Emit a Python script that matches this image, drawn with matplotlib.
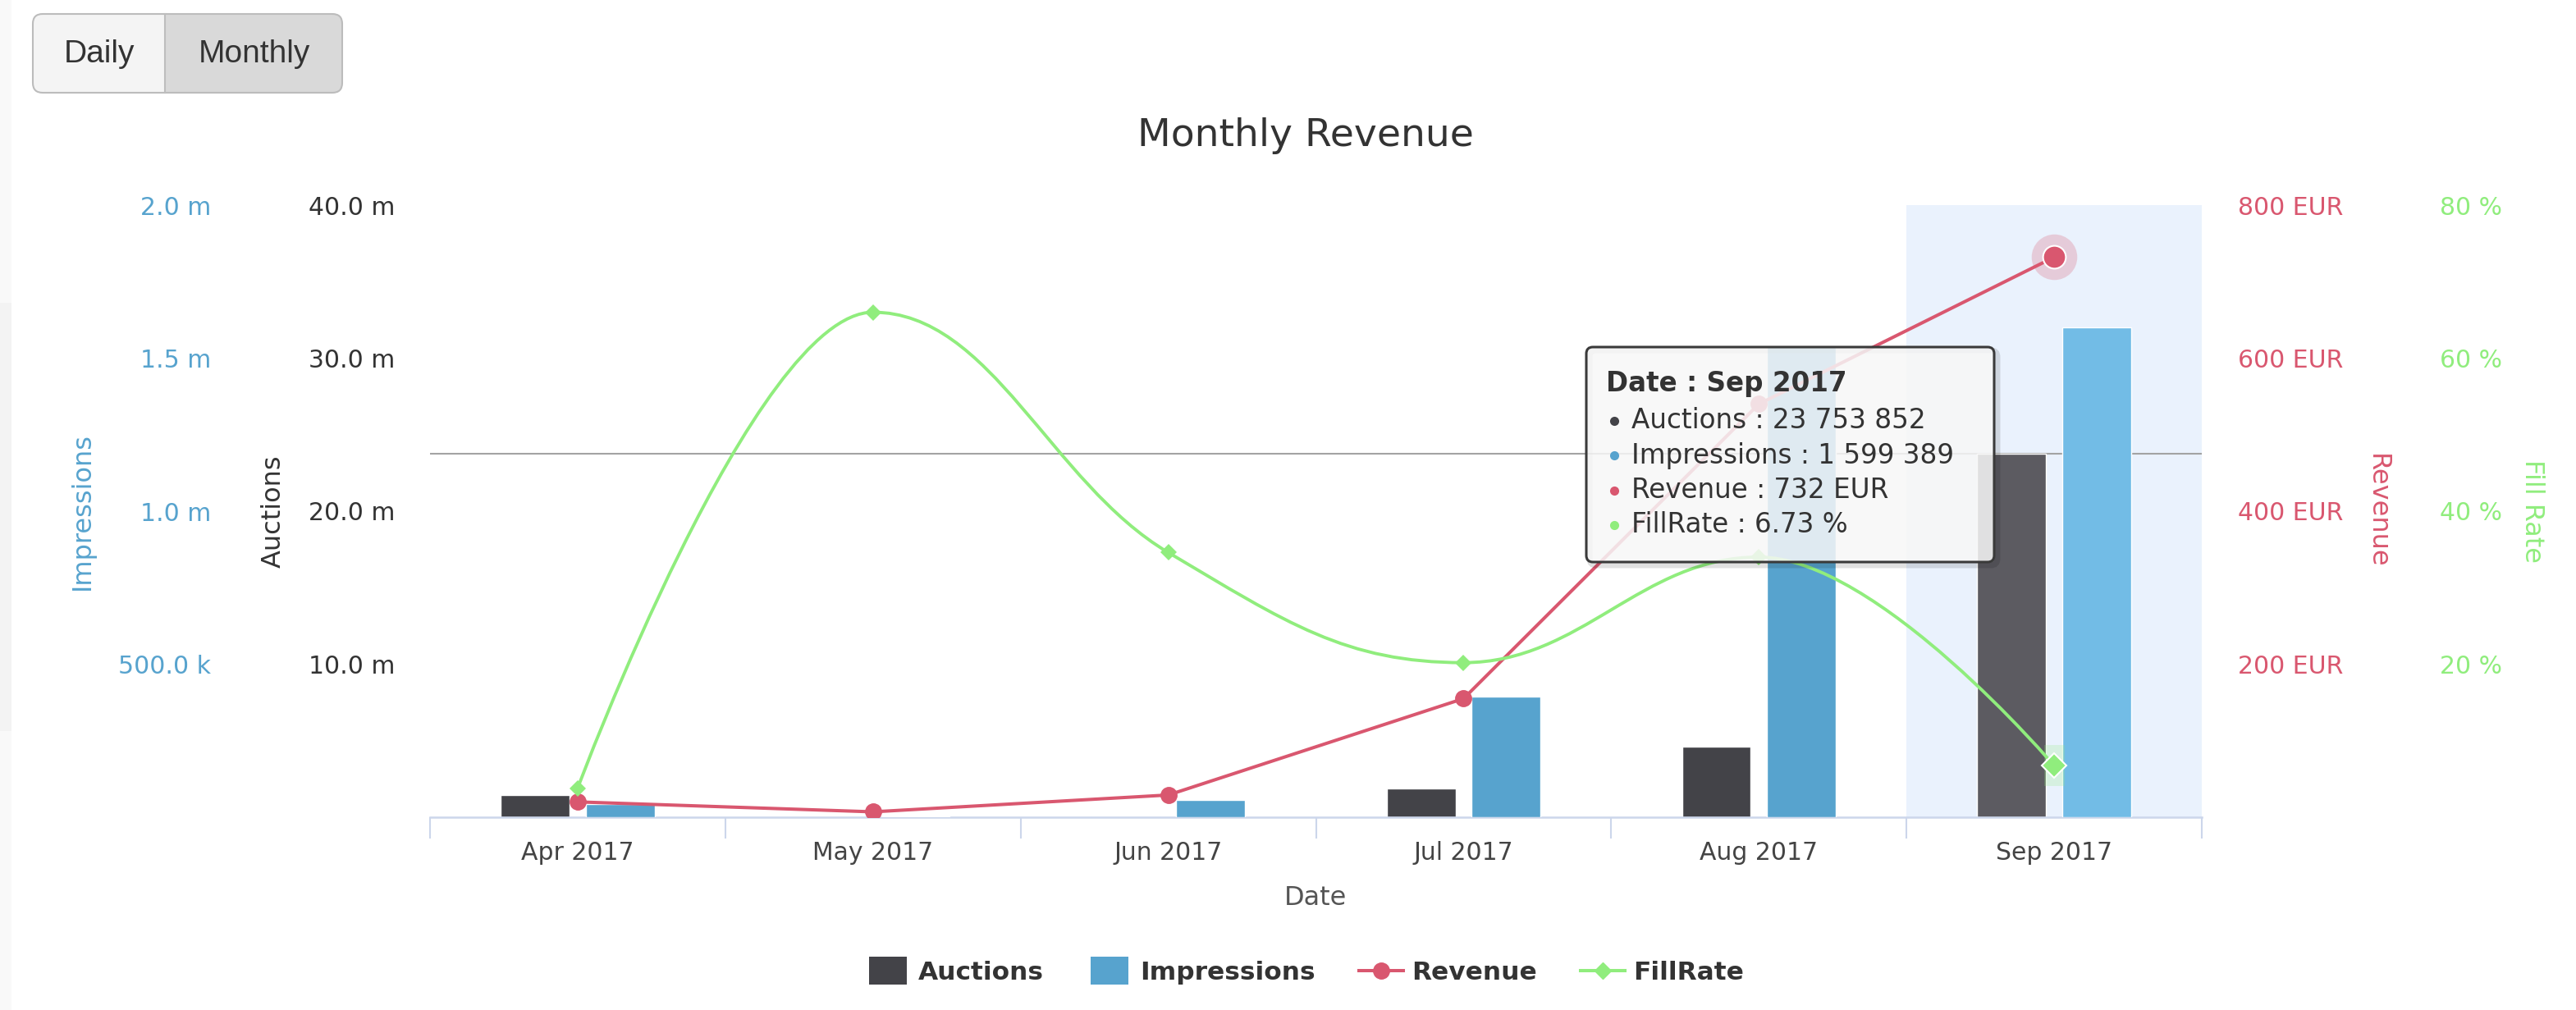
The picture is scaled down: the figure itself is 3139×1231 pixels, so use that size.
import numpy as np
import matplotlib.pyplot as plt
from matplotlib.path import Path
from matplotlib.patches import PathPatch, FancyBboxPatch, Rectangle
from matplotlib.lines import Line2D

# data
months = ['Apr 2017', 'May 2017', 'Jun 2017', 'Jul 2017', 'Aug 2017', 'Sep 2017']
auctions = [1.45e6, 0.02e6, 0.05e6, 1.88e6, 4.6e6, 23753852]
impressions = [42000, 3000, 56000, 394000, 1540000, 1599389]
revenue = [20, 7, 29, 155, 540, 732]
fill_rate = [3.8, 66.0, 34.6, 20.2, 34.0, 6.73]

auction_ticks = [10e6, 20e6, 30e6, 40e6]
impression_ticks = [0.5e6, 1.0e6, 1.5e6, 2.0e6]
revenue_ticks = [200, 400, 600, 800]
fill_ticks = [20, 40, 60, 80]
hover = 5  # Sep 2017 is the hovered point

C_AUC, C_AUC_H = '#434348', '#5c5b61'
C_IMP, C_IMP_H = '#57a3ce', '#72bce6'
C_REV = '#d9576f'
C_FILL = '#90ed7d'
C_AXIS = '#ccd6eb'

plt.rcParams['font.family'] = ['DejaVu Sans']
TICK_FS = 21.5
LAB_FS = 23

W, H = 3139, 1231
fig = plt.figure(figsize=(W / 100, H / 100), dpi=100)
L, R, T, B = 524, 2683, 250, 996
ax = fig.add_axes([L / W, 1 - B / H, (R - L) / W, (B - T) / H])
ax_imp = ax.twinx()
ax_rev = ax.twinx()
ax_fill = ax.twinx()

x = np.arange(len(months))
bw, off = 0.233, 0.144


def hc_spline(xs, ys, smoothing=1.5):
    # same control points as a highcharts spline series
    n = len(xs)
    lc, rc = [None] * n, [None] * n
    d = smoothing + 1
    for i in range(1, n - 1):
        px, py = xs[i], ys[i]
        lx, ly = xs[i - 1], ys[i - 1]
        nx, ny = xs[i + 1], ys[i + 1]
        lcx, lcy = (smoothing * px + lx) / d, (smoothing * py + ly) / d
        rcx, rcy = (smoothing * px + nx) / d, (smoothing * py + ny) / d
        if rcx != lcx:
            corr = (rcy - lcy) * (rcx - px) / (rcx - lcx) + py - rcy
            lcy += corr
            rcy += corr
        if lcy > ly and lcy > py:
            lcy = max(ly, py); rcy = 2 * py - lcy
        elif lcy < ly and lcy < py:
            lcy = min(ly, py); rcy = 2 * py - lcy
        if rcy > ny and rcy > py:
            rcy = max(ny, py); lcy = 2 * py - rcy
        elif rcy < ny and rcy < py:
            rcy = min(ny, py); lcy = 2 * py - rcy
        lc[i], rc[i] = (lcx, lcy), (rcx, rcy)
    verts, codes = [(xs[0], ys[0])], [Path.MOVETO]
    for i in range(1, n):
        verts += [rc[i - 1] or (xs[i - 1], ys[i - 1]), lc[i] or (xs[i], ys[i]), (xs[i], ys[i])]
        codes += [Path.CURVE4] * 3
    return Path(verts, codes)


# hover band + crosshair
ax.axvspan(hover - 0.5, hover + 0.5, color='#eaf2fd', zorder=0, lw=0)
ax.axhline(auctions[hover], color='#a3a3a3', lw=1.5, zorder=1)

auc_cols = [C_AUC_H if i == hover else C_AUC for i in x]
imp_cols = [C_IMP_H if i == hover else C_IMP for i in x]
ax.bar(x - off, auctions, bw, color=auc_cols, edgecolor='white', lw=1, zorder=2)
ax_imp.bar(x + off, impressions, bw, color=imp_cols, edgecolor='white', lw=1, zorder=2)

# revenue line
ax_rev.plot(x, revenue, color=C_REV, lw=2.9, marker='o', ms=14, zorder=3)
ax_rev.plot(x[hover], revenue[hover], 'o', color=C_REV, alpha=0.25, ms=40, mew=0, zorder=3)
ax_rev.plot(x[hover], revenue[hover], 'o', color=C_REV, ms=20, mec='white', mew=1.5, zorder=4)

# fill rate spline
ax_fill.add_patch(PathPatch(hc_spline(list(x), fill_rate), fc='none', ec=C_FILL, lw=2.8, zorder=3))
ax_fill.plot(x, fill_rate, 'D', color=C_FILL, ms=10, mew=0, zorder=4)
halo = Path([(-0.5, -1), (0.5, -1), (0.5, 1), (-0.5, 1), (-0.5, -1)])
ax_fill.plot(x[hover], fill_rate[hover], marker=halo, color=C_FILL, alpha=0.22, ms=36, mew=0, ls='none', zorder=3)
ax_fill.plot(x[hover], fill_rate[hover], 'D', color=C_FILL, ms=15, mec='white', mew=1.5, zorder=4)

# axes limits and ticks
ax.set_xlim(-0.5, len(months) - 0.5)
ax.set_ylim(0, 40e6)
ax_imp.set_ylim(0, 2e6)
ax_rev.set_ylim(0, 800)
ax_fill.set_ylim(0, 80)

for a in (ax, ax_imp, ax_rev, ax_fill):
    for s in a.spines.values():
        s.set_visible(False)
ax.spines['bottom'].set_visible(True)
ax.spines['bottom'].set_color(C_AXIS)
ax.spines['bottom'].set_linewidth(1.8)

ax.set_xticks(x)
ax.set_xticklabels(months, fontsize=TICK_FS, color='#444444')
ax.set_xticks(np.arange(len(months) + 1) - 0.5, minor=True)
ax.tick_params(axis='x', which='major', length=0, pad=21)
ax.tick_params(axis='x', which='minor', length=19, width=1.5, color=C_AXIS)
ax.set_xlabel('Date', fontsize=LAB_FS, color='#555555')
ax.xaxis.set_label_coords(0.5, -0.1315)
ax.xaxis.label.set_va('center')

ax.set_yticks(auction_ticks)
ax.set_yticklabels([f'{v / 1e6:.1f} m' for v in auction_ticks], fontsize=TICK_FS, color='#333333')
ax.tick_params(axis='y', length=0, pad=31)

ax_imp.yaxis.tick_left()
ax_imp.yaxis.set_label_position('left')
ax_imp.set_yticks(impression_ticks)
ax_imp.set_yticklabels([f'{v / 1e3:.1f} k' if v < 1e6 else f'{v / 1e6:.1f} m' for v in impression_ticks],
                       fontsize=TICK_FS, color=C_IMP)
ax_imp.tick_params(axis='y', length=0, pad=192)

ax_rev.set_yticks(revenue_ticks)
ax_rev.set_yticklabels([f'{v} EUR' for v in revenue_ticks], fontsize=TICK_FS, color=C_REV)
ax_rev.tick_params(axis='y', length=0, pad=32)

ax_fill.set_yticks(fill_ticks)
ax_fill.set_yticklabels([f'{v} %' for v in fill_ticks], fontsize=TICK_FS, color=C_FILL)
ax_fill.tick_params(axis='y', length=0, pad=209)

ax_imp.set_ylabel('Impressions', fontsize=LAB_FS, color=C_IMP, va='center')
ax_imp.yaxis.set_label_coords(-0.1964, 0.5)
ax.set_ylabel('Auctions', fontsize=LAB_FS, color='#333333', va='center')
ax.yaxis.set_label_coords(-0.0885, 0.5)
ax_rev.set_ylabel('Revenue', fontsize=LAB_FS, color=C_REV, rotation=270, va='center')
ax_rev.yaxis.set_label_coords(1.099, 0.5)
ax_fill.set_ylabel('Fill Rate', fontsize=LAB_FS, color=C_FILL, rotation=270, va='center')
ax_fill.yaxis.set_label_coords(1.1862, 0.5)

fig.text(1591 / W, 1 - 166 / H, 'Monthly Revenue', fontsize=34, color='#333333', ha='center', va='center')

# legend
box = Path([(-0.5, -0.37), (0.5, -0.37), (0.5, 0.37), (-0.5, 0.37), (-0.5, -0.37)])
handles = [
    Line2D([], [], ls='none', marker=box, ms=33, mew=0, color=C_AUC),
    Line2D([], [], ls='none', marker=box, ms=33, mew=0, color=C_IMP),
    Line2D([], [], color=C_REV, lw=2.9, marker='o', ms=14),
    Line2D([], [], color=C_FILL, lw=2.9, marker='D', ms=10),
]
fig.legend(handles, ['Auctions', 'Impressions', 'Revenue', 'FillRate'], loc='center',
           bbox_to_anchor=(1590 / W, 1 - 1185 / H), ncol=4, frameon=False,
           prop={'size': 22.5, 'weight': 'bold'}, handlelength=1.73, handletextpad=0.32,
           columnspacing=1.7, labelcolor='#333333')

# overlay in pixel coordinates: buttons and tooltip
ov = fig.add_axes([0, 0, 1, 1], zorder=10)
ov.set_xlim(0, W)
ov.set_ylim(H, 0)
ov.axis('off')

ov.add_patch(Rectangle((0, 0), 14, H, color='#f9f9f9', lw=0))
ov.add_patch(Rectangle((0, 369), 14, 522, color='#f3f3f3', lw=0))

ov.add_patch(FancyBboxPatch((40, 17), 377, 96, boxstyle='round,pad=0,rounding_size=12',
                            fc='#f4f4f4', ec='none'))
ov.add_patch(FancyBboxPatch((201, 17), 216, 96, boxstyle='round,pad=0,rounding_size=12',
                            fc='#d9d9d9', ec='none'))
ov.add_patch(Rectangle((201, 17), 20, 96, fc='#d9d9d9', ec='none'))
ov.plot([201, 201], [17, 113], color='#bdbdbd', lw=1.5)
ov.add_patch(FancyBboxPatch((40, 17), 377, 96, boxstyle='round,pad=0,rounding_size=12',
                            fc='none', ec='#bcbcbc', lw=1.5))
ov.text(121, 66, 'Daily', fontsize=28, color='#333333', ha='center', va='center', family='Liberation Sans')
ov.text(310, 66, 'Monthly', fontsize=28, color='#333333', ha='center', va='center', family='Liberation Sans')

tx, ty, tw, th = 1933, 423, 497, 262
ov.add_patch(FancyBboxPatch((tx + 4, ty + 4), tw, th, boxstyle='round,pad=0,rounding_size=8',
                            fc='none', ec=(0, 0, 0, 0.12), lw=5))
ov.add_patch(FancyBboxPatch((tx, ty), tw, th, boxstyle='round,pad=0,rounding_size=8',
                            fc=(0.97, 0.97, 0.97, 0.86), ec='#3a3a3a', lw=2.2))
ov.text(1957, 468, f'Date : {months[hover]}', fontsize=23.5, weight='bold', color='#333333', va='center')
rows = [
    (C_AUC, f'Auctions : {auctions[hover]:,.0f}'.replace(',', ' ')),
    (C_IMP, f'Impressions : {impressions[hover]:,.0f}'.replace(',', ' ')),
    (C_REV, f'Revenue : {revenue[hover]} EUR'),
    (C_FILL, f'FillRate : {fill_rate[hover]} %'),
]
for k, (c, s) in enumerate(rows):
    yy = 513 + k * 42.3
    ov.plot(1967, yy, 'o', color=c, ms=8, mew=0)
    ov.text(1988, yy, s, fontsize=23.5, color='#333333', va='center')

fig.savefig('out.png', dpi=100)
